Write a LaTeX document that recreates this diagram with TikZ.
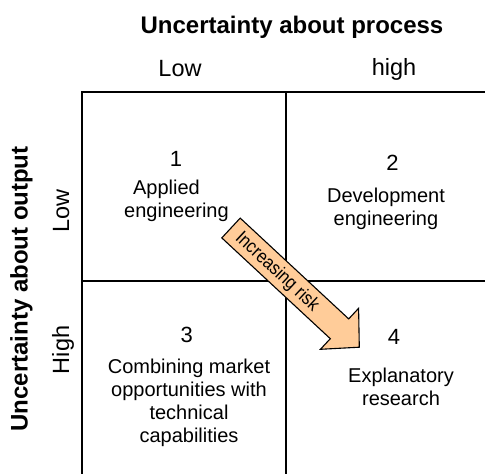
\documentclass[tikz,border=0pt]{standalone}
\usepackage{fontspec}
\setmainfont{Liberation Sans}
\definecolor{arrowfill}{HTML}{FFCC99}
\tikzset{
  lbl/.style={inner sep=0pt, font=\fontsize{23.5}{27}\selectfont},
  ttl/.style={inner sep=0pt, font=\fontsize{24}{28}\bfseries\selectfont},
  num/.style={inner sep=0pt, font=\fontsize{22}{26}\selectfont},
  celltext/.style={inner sep=0pt, align=center, anchor=north, font=\fontsize{20}{23}\selectfont},
  gridline/.style={line width=1.8pt, black},
  riskarrow/.style={draw=black, line width=1.1pt, fill=arrowfill, line join=miter}
}
\begin{document}
\begin{tikzpicture}[x=1pt, y=-1pt]
\useasboundingbox (0,0) rectangle (485,474);
\clip (0,0) rectangle (485,474);
% grid
\coordinate (tl) at (82,92);
\coordinate (tm) at (286,92);
\coordinate (tr) at (495,92);
\coordinate (ml) at (82,281);
\coordinate (mr) at (495,281);
\coordinate (bl) at (82,484);
\coordinate (bm) at (286,484);
\draw[gridline] (bl) -- (tl) -- (tr);
\draw[gridline] (tm) -- (bm);
\draw[gridline] (ml) -- (mr);
% titles
\node[ttl, anchor=base] (toptitle) at (292,33.3) {Uncertainty about process};
\node[lbl, anchor=base] (plow) at (180,76.7) {Low};
\node[lbl, anchor=base] (phigh) at (394,75) {high};
\node[ttl, anchor=base, rotate=90] (sidetitle) at (27.5,289) {Uncertainty about output};
\node[lbl, anchor=base, rotate=90] (olow) at (69,211) {Low};
\node[lbl, anchor=base, rotate=90] (ohigh) at (69,350) {High};
% cells
\node[num] (n1) at (176,159) {1};
\node[celltext] (c1) at (176.5,180) {Applied\hspace*{20pt}\\engineering};
\node[num] (n2) at (392.5,162.5) {2};
\node[celltext] (c2) at (386,188) {Development\\engineering};
\node[num] (n3) at (186.7,335) {3};
\node[celltext] (c3) at (189,359) {Combining market\\opportunities with\\technical\\capabilities};
\node[num] (n4) at (394,336.5) {4};
\node[celltext] (c4) at (401,368) {Explanatory\\research};
% arrow
\coordinate (a1) at (240.2,218.1);
\coordinate (a2) at (348.7,318.9);
\coordinate (a3) at (358.6,308.3);
\coordinate (a4) at (359.3,347.2);
\coordinate (a5) at (320.4,349.3);
\coordinate (a6) at (330.3,338.7);
\coordinate (a7) at (221.8,237.9);
\draw[riskarrow] (a1) -- (a2) -- (a3) -- (a4) -- (a5) -- (a6) -- (a7) -- cycle;
\node[inner sep=0pt, rotate=-42.9, font=\fontsize{19}{22}\selectfont] (risk) at (277,272) {\scalebox{0.87}[1]{Increasing risk}};
\end{tikzpicture}
\end{document}
